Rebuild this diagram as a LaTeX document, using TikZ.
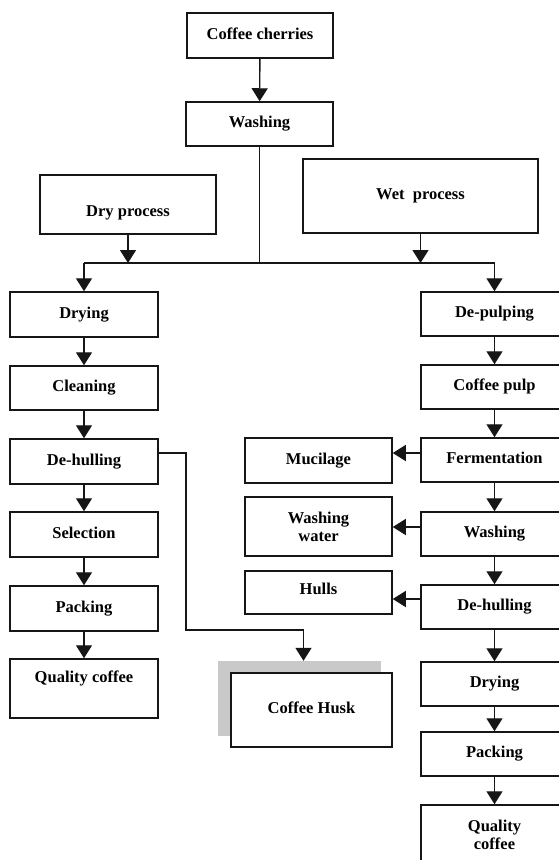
\documentclass[tikz,border=0pt]{standalone}
\usepackage{fontspec}
\setmainfont{Liberation Serif}
\usetikzlibrary{arrows.meta,positioning,calc}
\definecolor{linec}{HTML}{161616}
\definecolor{shadc}{HTML}{C9C9C9}
\tikzset{
  >={Triangle[width=16pt,length=13pt]},
  box/.style={draw=linec,line width=1.5pt,fill=white,minimum width=147pt,minimum height=44pt,inner sep=0pt,
    font=\bfseries\fontsize{16.5}{18}\selectfont,align=center},
  sbox/.style={box,text height=11pt,text depth=4pt},
  arr/.style={->,line width=1.4pt,draw=linec},
  ln/.style={line width=1.4pt,draw=linec},
  shad/.style={fill=shadc,inner sep=0pt},
}

\begin{document}
\begin{tikzpicture}[x=1pt,y=-1pt]
  \useasboundingbox (0,0) rectangle (558,860);
  % start
  \node[sbox,minimum width=146pt,minimum height=45pt] (cher) at (260,35.5) {Coffee cherries};
  \node[sbox] (wash) at (259.5,124) {Washing};
  \node[sbox,minimum width=176pt,minimum height=59pt,text height=28pt] (dry) at (128,204.5) {Dry process};
  \node[sbox,minimum width=235pt,minimum height=74pt] (wet) at (420.5,196) {Wet \ process};
  \coordinate (jl) at (84,263);
  \coordinate (jr) at (494.5,263);
  \draw[arr] (cher) -- (wash);
  \draw[ln] (wash.south) -- (wash.south |- jl);
  \draw[ln] (jl) -- (jr);
  \draw[arr] (dry.south) -- (dry.south |- jl);
  \draw[arr] (wet.south) -- (wet.south |- jl);
  % dry process
  \node[sbox,minimum width=148pt,minimum height=45pt] (ldry) at (84,314.5) {Drying};
  \node[sbox,minimum width=148pt] (lcln) at (84,388) {Cleaning};
  \node[sbox,minimum width=148pt,minimum height=45pt] (ldeh) at (84,461.5) {De-hulling};
  \node[sbox,minimum width=148pt,minimum height=45pt] (lsel) at (84,534.5) {Selection};
  \node[sbox,minimum width=148pt,minimum height=45pt] (lpack) at (84,608.5) {Packing};
  \node[sbox,minimum width=148pt,minimum height=59pt,text depth=23pt] (lqual) at (84,688.5) {Quality coffee};
  \draw[arr] (jl) -- (ldry);
  \draw[arr] (ldry) -- (lcln);
  \draw[arr] (lcln) -- (ldeh);
  \draw[arr] (ldeh) -- (lsel);
  \draw[arr] (lsel) -- (lpack);
  \draw[arr] (lpack) -- (lqual);
  % wet process
  \node[sbox] (rpulp) at (494.5,314) {De-pulping};
  \node[sbox] (rcp) at (494.5,387) {Coffee pulp};
  \node[sbox] (rferm) at (494.5,460) {Fermentation};
  \node[sbox] (rwash) at (494.5,534) {Washing};
  \node[sbox] (rdeh) at (494.5,607) {De-hulling};
  \node[sbox] (rdry) at (494.5,684) {Drying};
  \node[sbox] (rpack) at (494.5,754) {Packing};
  \node[box,minimum height=60pt] (rqual) at (494.5,835) {Quality\\coffee};
  \draw[arr] (jr) -- (rpulp);
  \draw[arr] (rpulp) -- (rcp);
  \draw[arr] (rcp) -- (rferm);
  \draw[arr] (rferm) -- (rwash);
  \draw[arr] (rwash) -- (rdeh);
  \draw[arr] (rdeh) -- (rdry);
  \draw[arr] (rdry) -- (rpack);
  \draw[arr] (rpack) -- (rqual);
  % by-products
  \node[sbox,minimum height=45pt] (muc) at (318.5,460.5) {Mucilage};
  \node[box,minimum height=59pt] (wwat) at (318.5,526.5) {Washing\\water};
  \node[sbox,minimum height=43pt,text depth=7pt] (hull) at (318.5,592.5) {Hulls};
  \node[shad,minimum width=163pt,minimum height=75pt] (huskbg) at (299.5,698.5) {};
  \node[sbox,minimum width=161pt,minimum height=74pt] (husk) at (311.5,710) {Coffee Husk};
  \draw[arr] ([yshift=7pt]rferm.west) coordinate (m0) -- (m0 -| muc.east);
  \draw[arr] ([yshift=7pt]rwash.west) coordinate (w0) -- (w0 -| wwat.east);
  \draw[arr] ([yshift=8pt]rdeh.west) coordinate (h0) -- (h0 -| hull.east);
  \coordinate (kb) at (186,630);
  \draw[arr] ([yshift=8.5pt]ldeh.east) -| (kb) -| ([xshift=4pt]huskbg.north);
\end{tikzpicture}
\end{document}
